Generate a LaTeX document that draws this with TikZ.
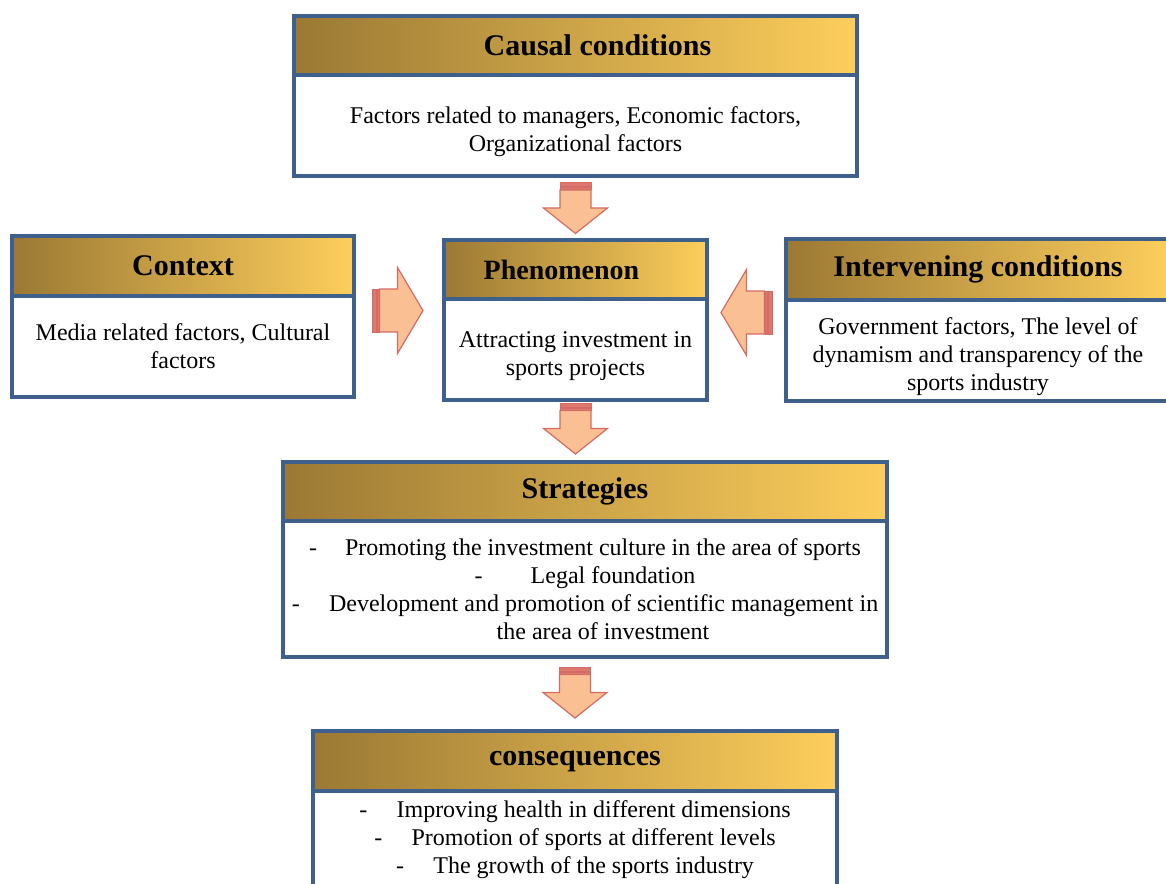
\documentclass[tikz,border=0pt]{standalone}
\usepackage{fontspec}
\setmainfont{Liberation Serif}
\usetikzlibrary{positioning,calc}

\definecolor{boxblue}{RGB}{63,96,141}
\definecolor{goldL}{RGB}{155,121,52}
\definecolor{goldR}{RGB}{253,206,92}
\definecolor{arrowfill}{RGB}{250,191,146}
\definecolor{arrowline}{RGB}{212,108,102}
\definecolor{stripefill}{RGB}{222,120,110}

\newcommand{\dropline}[1]{\rule{0pt}{#1}}

\tikzset{
  head/.style={draw=boxblue,line width=2.8pt,left color=goldL,right color=goldR,
    inner sep=0pt,outer sep=0pt,font=\fontsize{22.5}{27}\selectfont\bfseries},
  body/.style={draw=boxblue,line width=2.8pt,fill=white,inner sep=0pt,outer sep=0pt,
    align=center,font=\fontsize{18}{21}\selectfont},
  arrowbody/.style={draw=arrowline,fill=arrowfill,line width=0.9pt,line join=miter},
  arrowstripe/.style={draw=arrowline,fill=stripefill,line width=0.7pt},
  pics/stripearrow/.style 2 args={code={
    \draw[arrowbody] (-18,-#2) -- (0,-#2) -- (0,-#1) -- (25.5,0) -- (0,#1)
      -- (0,#2) -- (-18,#2) -- cycle;
    \draw[arrowstripe] (-25.5,-#2) rectangle (-21.5,#2);
    \draw[arrowstripe] (-20.5,-#2) rectangle (-18.5,#2);
  }}
}

\begin{document}
\begin{tikzpicture}[x=0.75pt,y=-0.75pt]
\useasboundingbox (0,0) rectangle (1166,884);

% boxes
\node[head,minimum width=422.25pt,minimum height=44.25pt] (causalh) at (575.5,45.5)
  {\hspace*{33pt}Causal conditions};
\node[body,minimum width=422.25pt,minimum height=75.75pt,below=0pt of causalh] (causal)
  {\dropline{22pt}Factors related to managers, Economic factors,\\Organizational factors};

\node[head,minimum width=256.5pt,minimum height=45pt] (ctxh) at (183,266) {Context};
\node[body,minimum width=256.5pt,minimum height=75.75pt,below=0pt of ctxh] (ctx)
  {Media related factors, Cultural\\factors};

\node[head,minimum width=197.25pt,minimum height=44.25pt,
  font=\fontsize{21}{25}\selectfont\bfseries] (phenh) at (575.5,269.5)
  {Phenomenon\hspace*{21pt}};
\node[body,minimum width=197.25pt,minimum height=75.75pt,below=0pt of phenh] (phen)
  {\dropline{22pt}Attracting investment in\\sports projects};

\node[head,minimum width=288pt,minimum height=45.75pt] (intvh) at (978,269.5)
  {Intervening conditions};
\node[body,minimum width=288pt,minimum height=75.75pt,below=0pt of intvh] (intv)
  {\dropline{22pt}Government factors, The level of\\dynamism and transparency of the\\sports industry};

\node[head,minimum width=453pt,minimum height=44.25pt] (strath) at (585,491.5) {Strategies};
\node[body,minimum width=453pt,minimum height=102pt,below=0pt of strath] (strat)
  {-\hspace{21pt}Promoting the investment culture in the area of sports\\
   -\hspace{36pt}Legal foundation\\
   -\hspace{22pt}Development and promotion of scientific management in\\
   \hspace*{27pt}the area of investment};

\node[head,minimum width=393pt,minimum height=45pt] (consh) at (575,761) {consequences};
\node[body,minimum width=393pt,minimum height=73.5pt,below=0pt of consh] (cons)
  {-\hspace{22pt}Improving health in different dimensions\\
   -\hspace{22pt}Promotion of sports at different levels\\
   -\hspace{22pt}The growth of the sports industry};

% arrows
\pic[rotate=-90] (arrA) at ($(causal.south)!.5!(phenh.north)$) {stripearrow={32}{15.5}};
\pic[rotate=-90] (arrB) at ($(phen.south)+(0,28.5)$) {stripearrow={32}{15.5}};
\pic[rotate=-90] (arrC) at ($(consh.north)+(0,-38.5)$) {stripearrow={32}{15.5}};
\pic (arrD) at ($(ctxh.south east)!.5!(phenh.south west)+(-1.5,13)$) {stripearrow={43}{21.5}};
\pic[rotate=180] (arrE) at ($(phenh.south east)!.5!(intvh.south west)+(0,13)$) {stripearrow={43}{21.5}};
\end{tikzpicture}
\end{document}
